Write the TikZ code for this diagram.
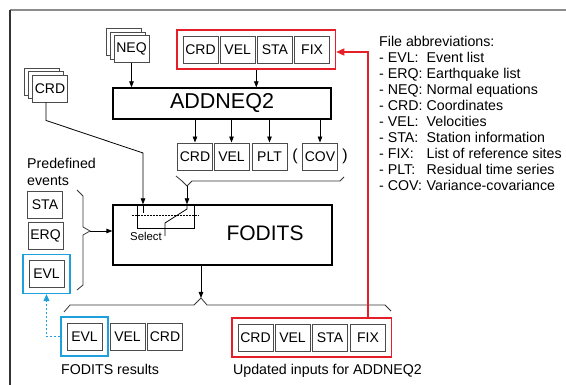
\documentclass[tikz,border=0pt]{standalone}
\usepackage{fontspec}
\setmainfont{Liberation Sans}
\usetikzlibrary{arrows.meta,shadows,fit,calc}

\definecolor{redline}{RGB}{230,30,40}
\definecolor{blueline}{RGB}{30,160,220}
\definecolor{boxgray}{RGB}{75,75,75}

\tikzset{
  file/.style={draw=boxgray, line width=0.9pt, fill=white, minimum width=35pt,
    minimum height=27pt, inner sep=0pt, font=\fontsize{14}{14}\selectfont},
  filestack/.style={file, double copy shadow={shadow xshift=-4pt, shadow yshift=3.5pt}},
  prog/.style={draw=black, line width=1.3pt, fill=white, inner sep=0pt},
  grp/.style={draw=#1, line width=1.4pt, inner sep=5.5pt},
  arr/.style={-{Triangle[length=6pt,width=4.5pt]}, line width=0.8pt},
  redarr/.style={-{Triangle[length=8pt,width=7pt]}, draw=redline, line width=1.1pt},
  bluearr/.style={-{Triangle[length=7pt,width=6pt]}, draw=blueline,
    line width=1.1pt, dash pattern=on 2.5pt off 1.5pt},
  brace/.style={line width=0.8pt, draw=black!80},
  txt/.style={font=\fontsize{14.2}{17}\selectfont, inner sep=0pt},
}

\begin{document}
\begin{tikzpicture}[x=1pt,y=-1pt]
\useasboundingbox (0,0) rectangle (566,385);
% frame
\draw[gray!90, line width=2pt] (10,10) -- (566,10);
\draw[black!80, line width=1.3pt] (10,10) -- (10,385);

% inputs of ADDNEQ2
\node[filestack] (neq) at (131.5,49) {NEQ};
\foreach \lab/\x in {CRD/200.5,VEL/237.7,STA/274.9,FIX/312.1}
  \node[file] (t\lab) at (\x,49.5) {\lab};
\node[grp=redline, fit=(tCRD)(tFIX)] (tgrp) {};

\node[prog, minimum width=218pt, minimum height=31pt,
  font=\fontsize{21.5}{22}\selectfont] (addneq) at (222,103.5) {ADDNEQ2};
\draw[arr] (neq.south) -- (neq.south |- addneq.north);
\draw[arr] (tgrp.south) -- (tgrp.south |- addneq.north);

% outputs of ADDNEQ2
\foreach \lab/\x in {CRD/195,VEL/231.5,PLT/269.5,COV/320}
  \node[file] (o\lab) at (\x,156.5) {\lab};
\node[font=\fontsize{16}{16}\selectfont] (lpar) at (295,156) {(};
\node[font=\fontsize{16}{16}\selectfont] (rpar) at (345,156) {)};
\foreach \n in {oCRD,oVEL,oPLT,oCOV}
  \draw[arr] (addneq.south -| \n) -- (\n.north);

% FODITS
\node[filestack] (crd) at (50,88.5) {CRD};
\node[prog, minimum width=219pt, minimum height=60pt] (fodits) at (222.5,235) {};
\node[font=\fontsize{21}{22}\selectfont] (foditslbl) at (265,233) {FODITS};

\coordinate (tip1) at (187,186);
\draw[brace] (176,176) -- (182,181) -- (tip1) -- (192,181) -- (340,181) -- (344,177);
\draw[arr] (tip1) -- (tip1 |- fodits.north);
\coordinate (selin) at (143,153);
\draw[arr] ($(crd.south)+(-4,0)$) -- ++(0,18) -- (selin) -- (selin |- fodits.north);

% select switch
\draw[line width=0.8pt] (137,205) rectangle (194,228);
\draw[line width=0.5pt, dash pattern=on 2pt off 1pt] (132,215) -- (199,215);
\draw[line width=0.8pt] (143,205) -- (143,213);
\draw[line width=0.8pt] (187,205) -- (187,209) -- (165,223) -- (165,236);
\node[font=\fontsize{11.4}{12}\selectfont, inner sep=0pt] (sel) at (146,236) {Select};

% predefined events
\node[txt, anchor=west, align=left] (predef) at (27,171.5) {Predefined\\events};
\node[file] (lSTA) at (45,204.5) {STA};
\node[file] (lERQ) at (45.5,235.5) {ERQ};
\node[file] (lEVL) at (46.5,274) {EVL};
\node[grp=blueline, fit=(lEVL)] (evlsel) {};
\coordinate (tip2) at (90,231);
\draw[brace] (77,190) -- (83,196) -- (83,227) -- (tip2) -- (83,235) -- (83,285) -- (77,290);
\draw[arr] (tip2) -- (tip2 -| fodits.west);

% results
\coordinate (tip3) at (201,298);
\draw[arr] (tip3 |- fodits.south) -- (tip3);
\draw[brace] (64,312) -- (70,305) -- (194,305) -- (tip3) -- (207,305) -- (385,305) -- (391,311);
\foreach \lab/\x in {EVL/84.5,VEL/127.5,CRD/165}
  \node[file] (r\lab) at (\x,336.5) {\lab};
\node[grp=blueline, fit=(rEVL)] (evlres) {};
\foreach \lab/\x in {CRD/255.5,VEL/292.5,STA/330,FIX/368}
  \node[file] (b\lab) at (\x,337.5) {\lab};
\node[grp=redline, fit=(bCRD)(bFIX)] (bgrp) {};
\node[txt, anchor=base west] (fres) at (61,375) {FODITS results};
\node[txt, anchor=base west] (upd) at (233,375) {Updated inputs for ADDNEQ2};

\draw[redarr] (bFIX |- bgrp.north) |- ([yshift=-2.5pt]tgrp.east);
\draw[bluearr] (evlres.west) -| (evlsel.south);

% abbreviations
\node[txt, anchor=base west] (abbr) at (379,47) {File abbreviations:};
\foreach \k/\d [count=\i] in {EVL/Event list,ERQ/Earthquake list,NEQ/Normal equations,
  CRD/Coordinates,VEL/Velocities,STA/Station information,FIX/List of reference sites,
  PLT/Residual time series,COV/Variance-covariance}
  \node[txt, anchor=base west] (abbr\i) at (379,{47+16*\i}) {\makebox[47.5pt][l]{- \k:}\d};
\end{tikzpicture}
\end{document}
